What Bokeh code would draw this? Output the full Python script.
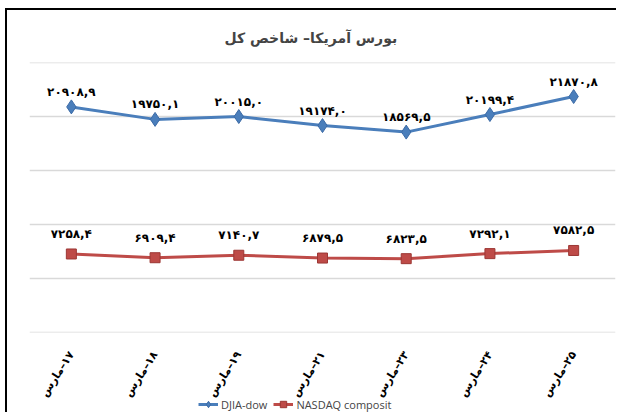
import math
from bokeh.plotting import figure
from bokeh.layouts import column
from bokeh.models import Range1d, ColumnDataSource, Legend, LegendItem, FixedTicker
from bokeh.embed import file_html
from bokeh.resources import INLINE
from bokeh.core.properties import value

# ---- data ----
days = ["۱۷", "۱۸", "۱۹", "۲۱", "۲۳", "۲۴", "۲۵"]
month = "مارس"
djia = [20908.9, 19750.1, 20015.0, 19174.0, 18569.5, 20199.4, 21870.8]
nasdaq = [7258.4, 6909.4, 7140.7, 6879.5, 6823.5, 7292.1, 7582.5]
series_names = ["DJIA-dow", "NASDAQ composit"]
title_text = "بورس آمریکا– شاخص کل"
y_ticks = [0, 5000, 10000, 15000, 20000, 25000]

PERSIAN = str.maketrans("0123456789.", "۰۱۲۳۴۵۶۷۸۹,")


def fa(v):
    return ("%.1f" % v).translate(PERSIAN)


categories = [month + "\u200e–" + d for d in days]

src = ColumnDataSource(dict(
    x=categories,
    djia=djia,
    nasdaq=nasdaq,
    djia_lbl=[fa(v) for v in djia],
    nasdaq_lbl=[fa(v) for v in nasdaq],
))

BLUE = "#4a7ebb"
RED = "#be4b48"

p = figure(
    x_range=categories,
    y_range=Range1d(-30, 25030),
    width=609, height=396,
    output_backend="svg", toolbar_location=None,
    min_border_left=22, min_border_right=1, min_border_top=52, min_border_bottom=74,
    title=title_text,
)

p.title.align = "left"
p.title.text_font = "DejaVu Sans"
p.title.text_font_style = "bold"
p.title.text_font_size = "14px"
p.title.offset = 195
p.title.standoff = 33

p.outline_line_color = None
p.yaxis.visible = False
p.yaxis.ticker = FixedTicker(ticks=y_ticks)
p.ygrid.ticker = FixedTicker(ticks=y_ticks)
p.ygrid.grid_line_color = "#d9d9d9"
p.ygrid.grid_line_width = 1.5
p.xgrid.grid_line_color = None

ax = p.xaxis[0]
ax.axis_line_color = None
ax.major_tick_line_color = None
ax.minor_tick_line_color = None
ax.major_label_orientation = math.radians(57)
ax.major_label_text_font = "DejaVu Sans"
ax.major_label_text_font_style = "bold"
ax.major_label_text_font_size = "11px"
ax.major_label_text_color = "black"
ax.major_label_standoff = 14

p.line("x", "djia", source=src, line_color=BLUE, line_width=3)
p.scatter("x", "djia", source=src, marker="diamond", size=14,
          fill_color=BLUE, line_color="#3b6aa6", line_width=1)
p.line("x", "nasdaq", source=src, line_color=RED, line_width=3)
p.scatter("x", "nasdaq", source=src, marker="square", size=10,
          fill_color=RED, line_color="#9c3734", line_width=1)

p.text("x", "djia", text="djia_lbl", source=src, y_offset=-15,
       text_align="center", text_baseline="middle",
       text_font=value("DejaVu Sans"), text_font_style="bold",
       text_font_size="12px", text_color="black")
p.text("x", "nasdaq", text="nasdaq_lbl", source=src, y_offset=-20,
       text_align="center", text_baseline="middle",
       text_font=value("DejaVu Sans"), text_font_style="bold",
       text_font_size="12px", text_color="black")

# ---- legend strip (separate small transparent figure, overlapping the labels) ----
pl = figure(
    x_range=categories, y_range=Range1d(-2, -1),
    width=609, height=16,
    output_backend="svg", toolbar_location=None,
    x_axis_location=None, y_axis_location=None, title=None,
    min_border_left=0, min_border_right=0, min_border_top=0, min_border_bottom=0,
    styles={"margin-top": "-10px"},
)
pl.outline_line_color = None
pl.background_fill_alpha = 0
pl.border_fill_alpha = 0
pl.grid.grid_line_color = None
ll1 = pl.line("x", "djia", source=src, line_color=BLUE, line_width=3)
lm1 = pl.scatter("x", "djia", source=src, marker="diamond", size=11,
                 fill_color=BLUE, line_color="#3b6aa6", line_width=1)
ll2 = pl.line("x", "nasdaq", source=src, line_color=RED, line_width=3)
lm2 = pl.scatter("x", "nasdaq", source=src, marker="square", size=9,
                 fill_color=RED, line_color="#9c3734", line_width=1)

legend = Legend(items=[
    LegendItem(label=series_names[0], renderers=[ll1, lm1]),
    LegendItem(label=series_names[1], renderers=[ll2, lm2]),
], location=(169, 0), orientation="horizontal")
legend.border_line_color = None
legend.background_fill_alpha = 0
legend.padding = 0
legend.margin = 0
legend.spacing = 6
legend.glyph_width = 20
legend.glyph_height = 16
legend.label_height = 16
legend.label_standoff = 3
legend.label_text_font = "Open Sans"
legend.label_text_font_size = "11px"
pl.add_layout(legend, "center")

page = column(p, pl, spacing=0,
              styles={"border-left": "2px solid black", "border-top": "2px solid black",
                      "margin-left": "5px", "margin-top": "8px"})

open("out.html", "w").write(file_html(page, INLINE))
